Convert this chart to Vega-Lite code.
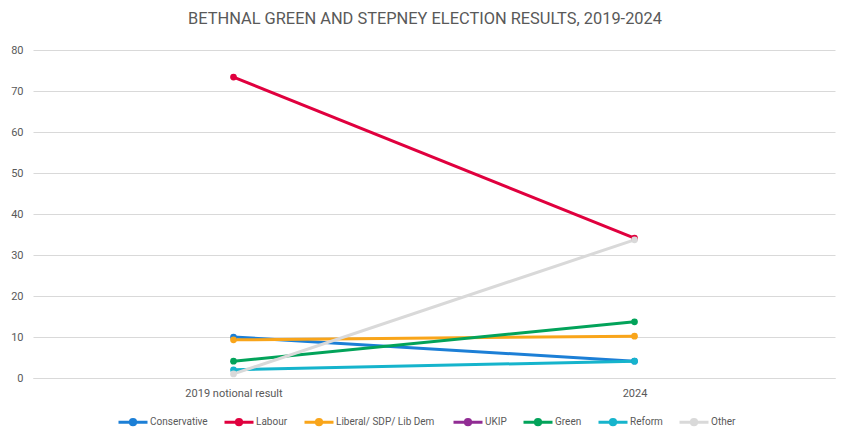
{
  "$schema": "https://vega.github.io/schema/vega-lite/v6.json",
  "width": 802,
  "height": 328,
  "autosize": {"type": "none"},
  "padding": {"left": 33, "top": 50, "right": 16, "bottom": 62},
  "background": "white",
  "title": {
    "text": "BETHNAL GREEN AND STEPNEY ELECTION RESULTS, 2019-2024",
    "font": "Roboto",
    "fontSize": 16.4,
    "fontWeight": "normal",
    "color": "#595959",
    "anchor": "middle",
    "dx": -9,
    "offset": 17
  },
  "data": {
    "values": [
      {"year": "2019 notional result", "party": "Conservative", "share": 10.0},
      {"year": "2024", "party": "Conservative", "share": 4.1},
      {"year": "2019 notional result", "party": "Labour", "share": 73.4},
      {"year": "2024", "party": "Labour", "share": 34.1},
      {"year": "2019 notional result", "party": "Liberal/ SDP/ Lib  Dem", "share": 9.3},
      {"year": "2024", "party": "Liberal/ SDP/ Lib  Dem", "share": 10.2},
      {"year": "2019 notional result", "party": "Green", "share": 4.1},
      {"year": "2024", "party": "Green", "share": 13.7},
      {"year": "2019 notional result", "party": "Reform", "share": 2.0},
      {"year": "2024", "party": "Reform", "share": 4.1},
      {"year": "2019 notional result", "party": "Other", "share": 1.0},
      {"year": "2024", "party": "Other", "share": 33.7}
    ]
  },
  "mark": {"type": "line", "point": {"size": 45, "filled": true, "opacity": 1}, "strokeWidth": 3},
  "encoding": {
    "x": {
      "field": "year",
      "type": "ordinal",
      "scale": {"type": "point", "padding": 0.5},
      "sort": ["2019 notional result", "2024"],
      "axis": {
        "title": null,
        "labelAngle": 0,
        "labelFont": "Roboto",
        "labelFontSize": 11,
        "labelColor": "#595959",
        "domainColor": "#d9d9d9",
        "ticks": false,
        "grid": false,
        "labelPadding": 9
      }
    },
    "y": {
      "field": "share",
      "type": "quantitative",
      "scale": {"domain": [0, 80]},
      "axis": {
        "title": null,
        "values": [0, 10, 20, 30, 40, 50, 60, 70, 80],
        "labelFont": "Roboto",
        "labelFontSize": 11,
        "labelColor": "#595959",
        "gridColor": "#d9d9d9",
        "domain": false,
        "ticks": false,
        "labelPadding": 10
      }
    },
    "color": {
      "field": "party",
      "type": "nominal",
      "scale": {
        "domain": ["Conservative", "Labour", "Liberal/ SDP/ Lib  Dem", "UKIP", "Green", "Reform", "Other"],
        "range": ["#1c7fd6", "#e0003e", "#f9a51a", "#912c94", "#02a35a", "#16b4cc", "#d9d9d9"]
      },
      "legend": {
        "title": null,
        "orient": "none",
        "legendX": 84,
        "legendY": 356,
        "direction": "horizontal",
        "labelFont": "Roboto",
        "labelFontSize": 10,
        "labelColor": "#595959",
        "symbolType": "M-1,0L1,0 M-0.18,0A0.18,0.18 0 1,0 0.18,0A0.18,0.18 0 1,0 -0.18,0Z",
        "symbolSize": 841,
        "symbolStrokeWidth": 3,
        "columnPadding": 10,
        "labelOffset": 1
      }
    }
  },
  "config": {"view": {"stroke": null}}
}
